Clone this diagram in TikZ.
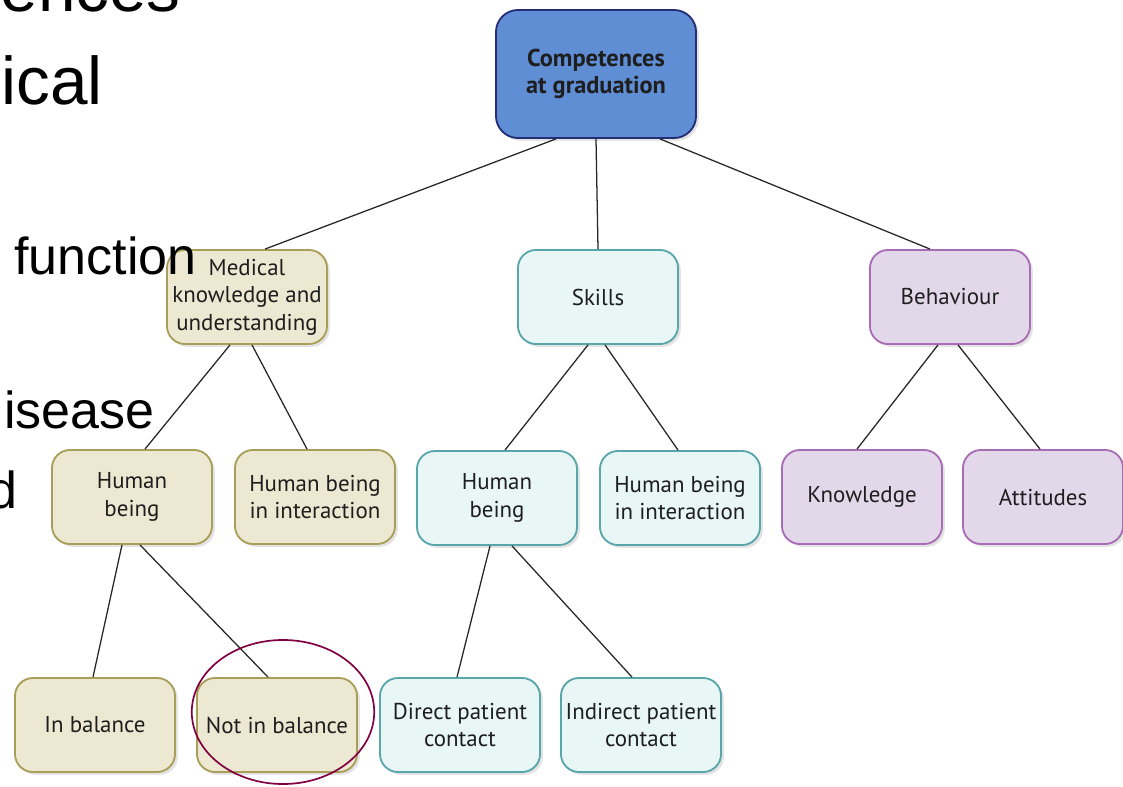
\documentclass[tikz,border=0pt]{standalone}
\usepackage{fontspec}
\setmainfont{Liberation Sans}
\newfontfamily\boxfont{PT Sans}
\usepackage{xcolor}
\definecolor{cgblue}{RGB}{95,142,213}
\definecolor{cgnavy}{RGB}{35,45,120}
\definecolor{cgbeige}{RGB}{236,232,210}
\definecolor{cgolive}{RGB}{168,158,88}
\definecolor{cgaqua}{RGB}{232,246,246}
\definecolor{cgteal}{RGB}{88,165,170}
\definecolor{cglilac}{RGB}{226,216,234}
\definecolor{cgpurple}{RGB}{168,108,180}
\definecolor{cgplum}{RGB}{128,0,66}
\definecolor{cgink}{RGB}{30,30,30}
\usepackage{tikz}
\usetikzlibrary{calc, shadows}

\tikzset{
  box/.style={rounded corners=0.45cm, line width=1.3pt, minimum width=4cm,
    minimum height=2.35cm, align=center, text=cgink,
    font=\boxfont\fontsize{16.3}{19.5}\selectfont,
    drop shadow={opacity=0.22, shadow xshift=2pt, shadow yshift=-2pt}},
  medbox/.style={box, draw=cgolive, fill=cgbeige},
  skillbox/.style={box, draw=cgteal, fill=cgaqua},
  behbox/.style={box, draw=cgpurple, fill=cglilac},
  link/.style={black!85, line width=0.9pt},
  slide/.style={anchor=base east, inner sep=0pt, text=black}
}

\begin{document}
\begin{tikzpicture}[x=0.025cm, y=-0.025cm]
\useasboundingbox (0,0) rectangle (1123,787);
\clip (0,0) rectangle (1123,787);

% --- root ---
\node[box, draw=cgnavy, fill=cgblue, minimum width=5cm, minimum height=3.2cm,
      rounded corners=0.55cm, font=\boxfont\bfseries\fontsize{17.3}{19.5}\selectfont]
      (top) at (596,74) {Competences\\at graduation};

% --- level 1 ---
\node[medbox] (med) at (247,297) {Medical\\knowledge and\\understanding};
\node[skillbox] (skills) at (598,297) {Skills};
\node[behbox] (beh) at (950,297) {Behaviour};

% --- level 2 ---
\node[medbox] (hbm) at (132,497) {Human\\being};
\node[medbox] (hbim) at (315,497) {Human being\\in interaction};
\node[skillbox] (hbs) at (497,498) {Human\\being};
\node[skillbox] (hbis) at (680,498) {Human being\\in interaction};
\node[behbox] (know) at (862,497) {Knowledge};
\node[behbox] (att) at (1043,497) {Attitudes};

% --- level 3 ---
\node[medbox] (inbal) at (95,725) {In balance};
\node[medbox] (notbal) at (277,725) {Not in balance};
\node[skillbox] (direct) at (460,725) {Direct patient\\contact};
\node[skillbox] (indirect) at (641,725) {Indirect patient\\contact};

% links
\draw[link] ($(top.south)+(-40,0)$) -- ($(med.north)+(18,0)$);
\draw[link] (top.south) -- (skills.north);
\draw[link] ($(top.south)+(64,0)$) -- ($(beh.north)+(-20,0)$);
\draw[link] ($(med.south)+(-17,0)$) -- ($(hbm.north)+(13,0)$);
\draw[link] ($(med.south)+(5,0)$) -- ($(hbim.north)+(-8,0)$);
\draw[link] ($(skills.south)+(-10,0)$) -- ($(hbs.north)+(8,0)$);
\draw[link] ($(skills.south)+(7,0)$) -- ($(hbis.north)+(-2,0)$);
\draw[link] ($(beh.south)+(-12,0)$) -- ($(know.north)+(-5,0)$);
\draw[link] ($(beh.south)+(8,0)$) -- ($(att.north)+(-3,0)$);
\draw[link] ($(hbm.south)+(-10,0)$) -- ($(inbal.north)+(-2,0)$);
\draw[link] ($(hbm.south)+(8,0)$) -- ($(notbal.north)+(-9,0)$);
\draw[link] ($(hbs.south)+(-7,0)$) -- ($(direct.north)+(-3,0)$);
\draw[link] ($(hbs.south)+(15,0)$) -- ($(indirect.north)+(-9,0)$);

% --- slide text lying over the chart ---
\node[slide, font=\fontsize{48}{50}\selectfont] (s1) at (181,12) {ences};
\node[slide, font=\fontsize{48}{50}\selectfont] (s2) at (103,105) {ical};
\node[slide, anchor=base west, font=\fontsize{48}{50}\selectfont] (s3) at (-13.5,192) {:};
\node[slide, font=\fontsize{37}{40}\selectfont] (s4) at (197,275) {function};
\node[slide, font=\fontsize{37}{40}\selectfont] (s5) at (155,428) {isease};
\node[slide, font=\fontsize{37}{40}\selectfont] (s6) at (18,508) {d};

% marker round "Not in balance"
\draw[cgplum, line width=1.2pt] (283,712) ellipse [x radius=2.28cm, y radius=1.8cm];

\end{tikzpicture}
\end{document}
